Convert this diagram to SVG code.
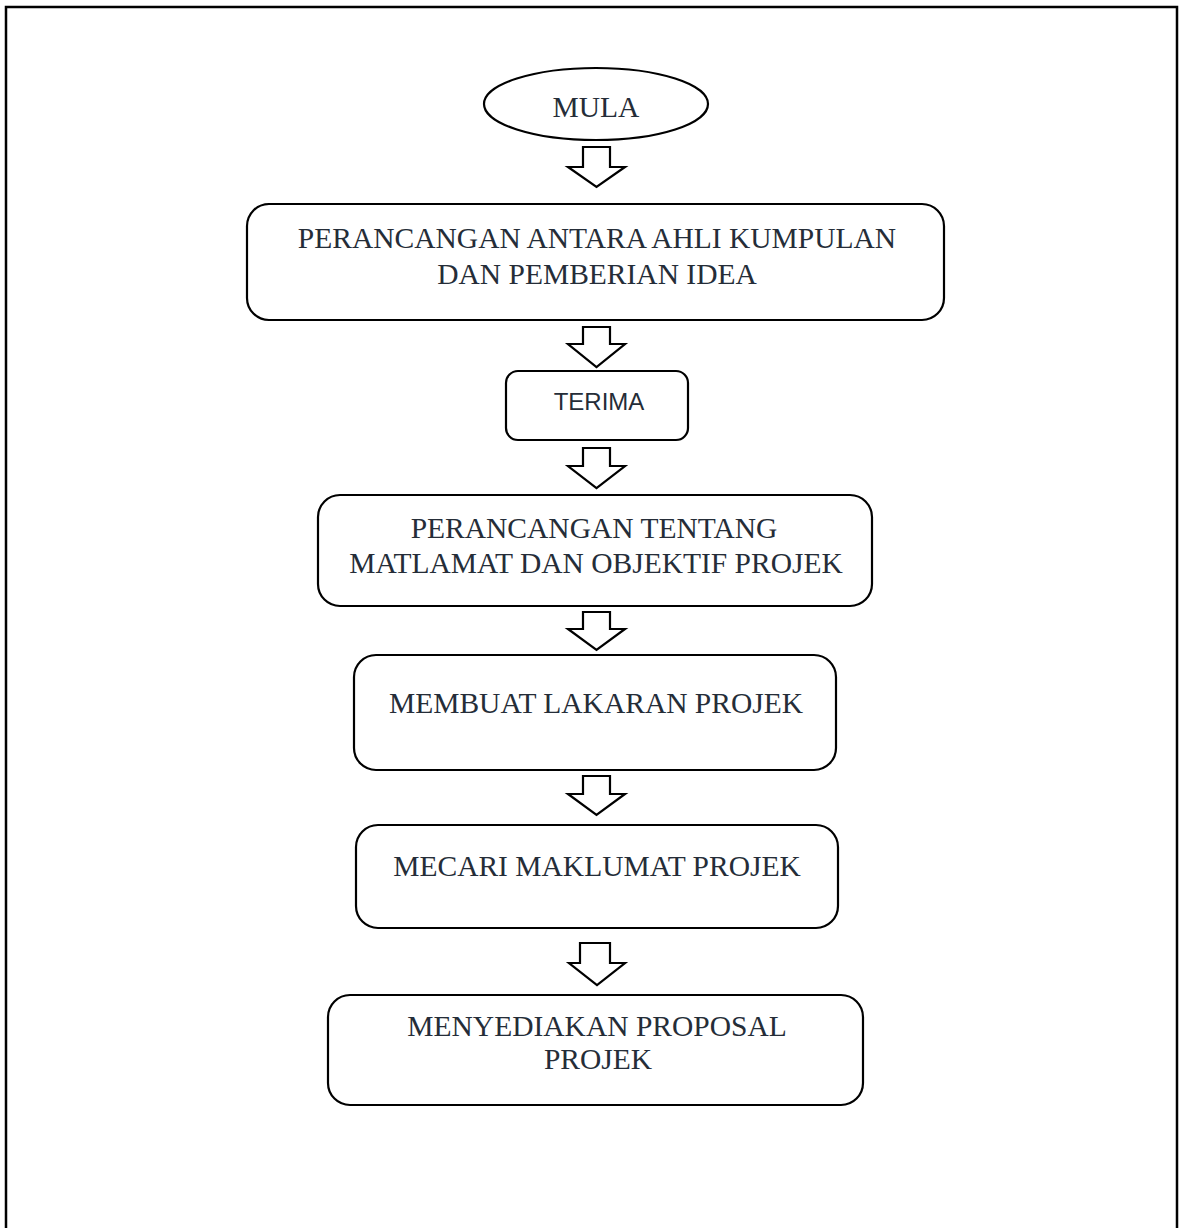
<svg xmlns="http://www.w3.org/2000/svg" width="1180" height="1228" viewBox="0 0 1180 1228">
<style>
.box{fill:#fff;stroke:#000;stroke-width:2.2}
.arr{fill:#fff;stroke:#000;stroke-width:2.2;stroke-linejoin:miter}
.t{font-family:"Liberation Serif","Times New Roman",serif;font-size:29.5px;fill:#252d38;text-anchor:middle}
.s{font-family:"Liberation Sans",Arial,sans-serif;font-size:24px;fill:#252d38;text-anchor:middle}
</style>
<rect width="1180" height="1228" fill="#fff"/>
<path d="M6,1230 V7 H1177 V1230" fill="none" stroke="#000" stroke-width="2.5"/>
<g id="mula">
<ellipse class="box" cx="596" cy="104" rx="112" ry="36"/>
<text class="t" x="596" y="117">MULA</text>
</g>
<g id="n1">
<rect class="box" x="247" y="204" width="697" height="116" rx="22"/>
<text class="t" x="597" y="248">PERANCANGAN ANTARA AHLI KUMPULAN</text>
<text class="t" x="597" y="284">DAN PEMBERIAN IDEA</text>
</g>
<g id="n2">
<rect class="box" x="506" y="371" width="182" height="69" rx="12"/>
<text class="s" x="599" y="410">TERIMA</text>
</g>
<g id="n3">
<rect class="box" x="318" y="495" width="554" height="111" rx="22"/>
<text class="t" x="594" y="538">PERANCANGAN TENTANG</text>
<text class="t" x="596" y="573">MATLAMAT DAN OBJEKTIF PROJEK</text>
</g>
<g id="n4">
<rect class="box" x="354" y="655" width="482" height="115" rx="22"/>
<text class="t" x="596" y="713">MEMBUAT LAKARAN PROJEK</text>
</g>
<g id="n5">
<rect class="box" x="356" y="825" width="482" height="103" rx="22"/>
<text class="t" x="597" y="876">MECARI MAKLUMAT PROJEK</text>
</g>
<g id="n6">
<rect class="box" x="328" y="995" width="535" height="110" rx="22"/>
<text class="t" x="597" y="1036">MENYEDIAKAN PROPOSAL</text>
<text class="t" x="598" y="1069">PROJEK</text>
</g>
<g id="connectors">
<path class="arr" d="M583,147 H610 V167 H625 L596.5,187 L568,167 H583 Z"/>
<path class="arr" d="M583,327 H610 V344 H625 L596.5,367 L568,344 H583 Z"/>
<path class="arr" d="M583,448 H610 V466 H625 L596.5,488 L568,466 H583 Z"/>
<path class="arr" d="M583,612 H610 V629 H625 L596.5,650 L568,629 H583 Z"/>
<path class="arr" d="M583,776 H610 V794 H625 L596.5,815 L568,794 H583 Z"/>
<path class="arr" d="M580,943 H610 V963 H625 L597,985 L569,963 H580 Z"/>
</g>
</svg>
